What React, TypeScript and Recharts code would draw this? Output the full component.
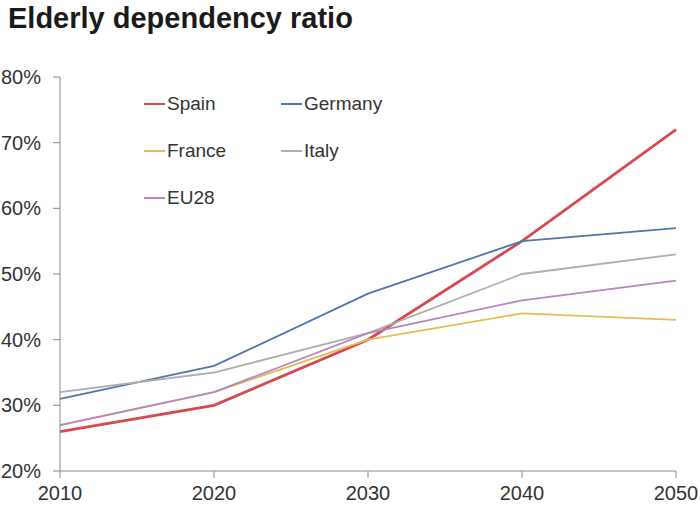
import { Line, LineChart, XAxis, YAxis } from 'recharts';

const years = ['2010', '2020', '2030', '2040', '2050'];
const spain = [0.26, 0.3, 0.4, 0.55, 0.72];
const germany = [0.31, 0.36, 0.47, 0.55, 0.57];
const france = [0.27, 0.32, 0.4, 0.44, 0.43];
const italy = [0.32, 0.35, 0.41, 0.5, 0.53];
const eu28 = [0.27, 0.32, 0.41, 0.46, 0.49];
const yTicks = [0.2, 0.3, 0.4, 0.5, 0.6, 0.7, 0.8];

const series = [
  { key: 'Spain', values: spain, color: '#d9474f', width: 2.8 },
  { key: 'Germany', values: germany, color: '#4f76a8', width: 1.8 },
  { key: 'France', values: france, color: '#e6bb50', width: 1.8 },
  { key: 'Italy', values: italy, color: '#aeaeae', width: 1.8 },
  { key: 'EU28', values: eu28, color: '#b984c2', width: 1.8 },
];

const data = years.map((year, i) => {
  const row: Record<string, string | number> = { year };
  series.forEach((s) => {
    row[s.key] = s.values[i];
  });
  return row;
});

const font = '"Liberation Sans", Arial, sans-serif';
const tickStyle = { fill: '#333', fontSize: 20, fontFamily: font };

// legend sits inside the plot area, so it's drawn as an overlay
function ChartLegend() {
  return (
    <div
      style={{
        position: 'absolute',
        left: 144,
        top: 92,
        display: 'grid',
        gridTemplateColumns: '137px 120px',
        rowGap: 23,
        fontFamily: font,
        fontSize: 19,
        color: '#333',
      }}
    >
      {series.map((s) => (
        <div key={s.key} style={{ display: 'flex', alignItems: 'center', height: 24 }}>
          <span style={{ width: 21, height: 2, background: s.color, marginRight: 2 }} />
          {s.key}
        </div>
      ))}
    </div>
  );
}

export default function App() {
  return (
    <div style={{ position: 'absolute', left: 0, top: 0, width: 700, height: 511, background: '#fff' }}>
      <LineChart width={700} height={511} data={data} margin={{ top: 77, right: 24, bottom: 10, left: 0 }}>
        <XAxis
          dataKey="year"
          height={30}
          tick={tickStyle}
          stroke="#888"
          tickSize={7}
          tickMargin={8}
          interval={0}
        />
        <YAxis
          width={60}
          domain={[0.2, 0.8]}
          ticks={yTicks}
          tick={tickStyle}
          stroke="#888"
          tickSize={7}
          tickMargin={12}
          tickFormatter={(v) => `${Math.round(Number(v) * 100)}%`}
        />
        {series.map((s) => (
          <Line
            key={s.key}
            dataKey={s.key}
            stroke={s.color}
            strokeWidth={s.width}
            dot={false}
            isAnimationActive={false}
          />
        ))}
      </LineChart>
      <div
        style={{
          position: 'absolute',
          left: 8,
          top: 2,
          fontFamily: font,
          fontWeight: 'bold',
          fontSize: 29,
          color: '#1a1a1a',
        }}
      >
        Elderly dependency ratio
      </div>
      <ChartLegend />
    </div>
  );
}
